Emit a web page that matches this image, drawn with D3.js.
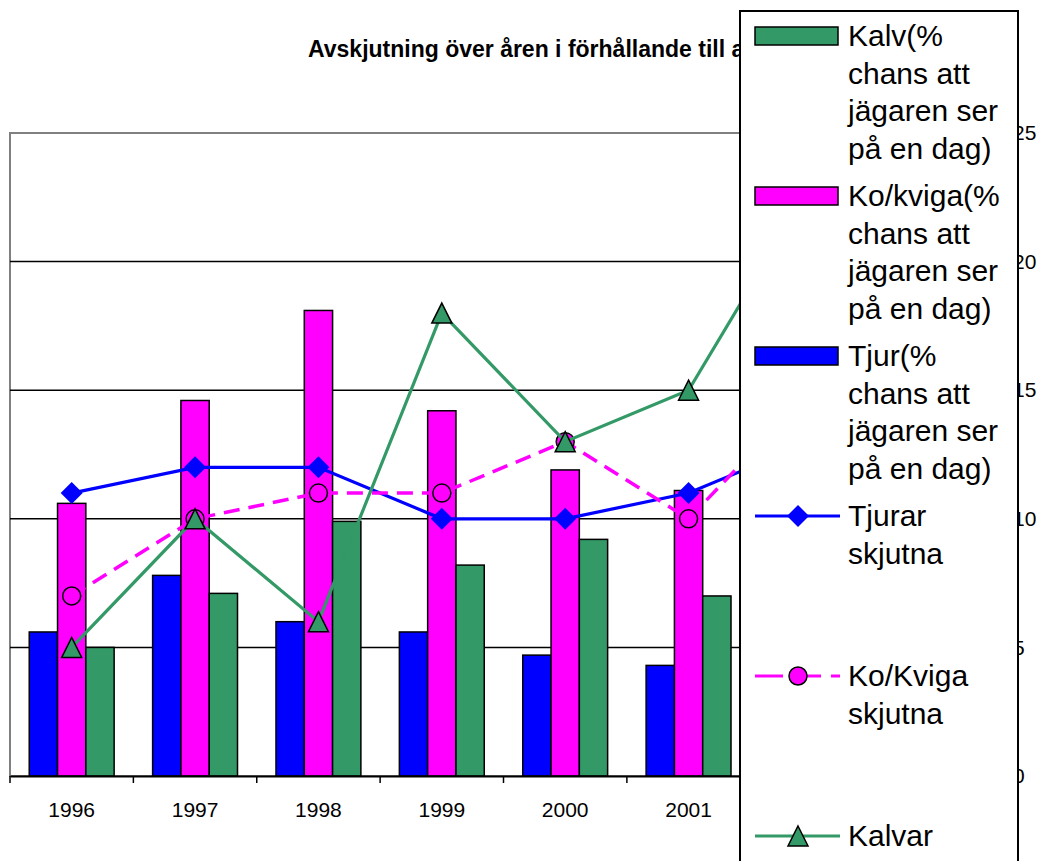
<!DOCTYPE html>
<html>
<head>
<meta charset="utf-8">
<script src="https://cdn.jsdelivr.net/npm/d3@7"></script>
<style>
  html, body { margin: 0; padding: 0; background: #fff; }
  svg text { font-family: Arial, "Liberation Sans", sans-serif; }
</style>
</head>
<body>
<div class="chart"></div>
<script>
// years on the category axis (last two sit behind the legend box)
var years = ["1996", "1997", "1998", "1999", "2000", "2001", "2002", "2003"];

// bars: % chance that the hunter sees the animal in a day
var tjurPct   = [5.6, 7.8, 6.0, 5.6, 4.7, 4.3, 5.0, 5.5];
var koKvigaPct = [10.6, 14.6, 18.1, 14.2, 11.9, 11.1, 12.0, 12.5];
var kalvPct   = [5.0, 7.1, 9.9, 8.2, 9.2, 7.0, 8.0, 8.5];

// lines: animals shot
var tjurarSkjutna  = [11, 12, 12, 10, 10, 11, 13, 12];
var koKvigaSkjutna = [7, 10, 11, 11, 13, 10, 15, 13];
var kalvarSkjutna  = [5, 10, 6, 18, 13, 15, 23, 20];

var rightTicks = [0, 5, 10, 15, 20, 25];

// the end of the title is hidden behind the legend box
var titleText = "Avskjutning över åren i förhållande till antal";

var legendItems = [
  { kind: "bar",  color: "#339966", lines: ["Kalv(%", "chans att", "jägaren ser", "på en dag)"] },
  { kind: "bar",  color: "#ff00ff", lines: ["Ko/kviga(%", "chans att", "jägaren ser", "på en dag)"] },
  { kind: "bar",  color: "#0000ff", lines: ["Tjur(%", "chans att", "jägaren ser", "på en dag)"] },
  { kind: "line", color: "#0000ff", marker: "diamond", lines: ["Tjurar", "skjutna"] },
  { kind: "line", color: "#ff00ff", marker: "circle", dash: "16,9", lines: ["Ko/Kviga", "skjutna"] },
  { kind: "line", color: "#339966", marker: "triangle", lines: ["Kalvar"] }
];

var W = 1039, H = 861;
var plotLeft = 10, plotRight = 997, plotTop = 133, plotBottom = 776;

var svg = d3.select(".chart").append("svg")
    .attr("width", W)
    .attr("height", H);

var x = d3.scaleBand().domain(years).range([plotLeft, plotRight]).padding(0);
var barSeries = ["tjur", "kokviga", "kalv"];
var xs = d3.scaleBand().domain(barSeries).range([0, x.bandwidth()])
    .paddingInner(0).paddingOuter(0.68);
var y = d3.scaleLinear().domain([0, 25]).range([plotBottom, plotTop]);
var y2 = d3.scaleLinear().domain([0, 25]).range([plotBottom, plotTop]);

var barColor = { tjur: "#0000ff", kokviga: "#ff00ff", kalv: "#339966" };
var barData = { tjur: tjurPct, kokviga: koKvigaPct, kalv: kalvPct };

// title
svg.append("text")
    .attr("x", 308)
    .attr("y", 57)
    .attr("font-size", 23)
    .attr("font-weight", "bold")
    .attr("fill", "#000")
    .text(titleText);

// plot area + gridlines
svg.append("rect")
    .attr("x", plotLeft).attr("y", plotTop)
    .attr("width", plotRight - plotLeft).attr("height", plotBottom - plotTop)
    .attr("fill", "#fff")
    .attr("stroke", "#808080")
    .attr("stroke-width", 2);

svg.append("g")
  .selectAll("line")
  .data(rightTicks.filter(function(d) { return d > 0 && d < 25; }))
  .enter().append("line")
    .attr("x1", plotLeft).attr("x2", plotRight)
    .attr("y1", function(d) { return y(d); })
    .attr("y2", function(d) { return y(d); })
    .attr("stroke", "#000")
    .attr("stroke-width", 1.5);

// bars
barSeries.forEach(function(s) {
  svg.append("g")
    .selectAll("rect")
    .data(years)
    .enter().append("rect")
      .attr("x", function(d) { return x(d) + xs(s); })
      .attr("y", function(d, i) { return y(barData[s][i]); })
      .attr("width", xs.bandwidth())
      .attr("height", function(d, i) { return plotBottom - y(barData[s][i]); })
      .attr("fill", barColor[s])
      .attr("stroke", "#000")
      .attr("stroke-width", 1.5);
});

// category axis
var xAxis = svg.append("g")
    .attr("transform", "translate(0," + plotBottom + ")")
    .call(d3.axisBottom(x).tickSize(0).tickPadding(26));
xAxis.select(".domain").attr("stroke", "#000").attr("stroke-width", 2);
xAxis.selectAll("text").attr("font-size", 21).attr("fill", "#000")
    .attr("font-family", "Arial, 'Liberation Sans', sans-serif");

var bounds = years.map(function(d) { return x(d); }).concat([plotRight]);
svg.append("g")
  .selectAll("line")
  .data(bounds)
  .enter().append("line")
    .attr("x1", function(d) { return d; })
    .attr("x2", function(d) { return d; })
    .attr("y1", plotBottom).attr("y2", plotBottom + 7)
    .attr("stroke", "#000")
    .attr("stroke-width", 1.5);

// right value axis
var yAxis = svg.append("g")
    .attr("transform", "translate(" + plotRight + ",0)")
    .call(d3.axisRight(y2).tickValues(rightTicks).tickSize(0).tickPadding(16));
yAxis.select(".domain").attr("stroke", "#000").attr("stroke-width", 2);
yAxis.selectAll("text").attr("font-size", 21).attr("fill", "#000")
    .attr("font-family", "Arial, 'Liberation Sans', sans-serif");

// line series
var cx = function(d, i) { return x(years[i]) + x.bandwidth() / 2; };
var lineGen = d3.line()
    .x(cx)
    .y(function(d) { return y2(d); });

function drawMarker(g, type, color) {
  if (type === "diamond") {
    g.append("path")
      .attr("d", "M0,-11L11,0L0,11L-11,0Z")
      .attr("fill", color);
  } else if (type === "circle") {
    g.append("circle")
      .attr("r", 9)
      .attr("fill", color)
      .attr("stroke", "#000")
      .attr("stroke-width", 1.5);
  } else {
    g.append("path")
      .attr("d", "M0,-10L10,10L-10,10Z")
      .attr("fill", color)
      .attr("stroke", "#000")
      .attr("stroke-width", 1.5);
  }
}

var lineSeries = [
  { values: tjurarSkjutna, color: "#0000ff", marker: "diamond" },
  { values: koKvigaSkjutna, color: "#ff00ff", marker: "circle", dash: "16,9" },
  { values: kalvarSkjutna, color: "#339966", marker: "triangle" }
];

lineSeries.forEach(function(s) {
  svg.append("path")
    .datum(s.values)
    .attr("d", lineGen)
    .attr("fill", "none")
    .attr("stroke", s.color)
    .attr("stroke-width", s.dash ? 3.5 : 3.2)
    .attr("stroke-dasharray", s.dash || null);
  s.values.forEach(function(v, i) {
    var g = svg.append("g")
      .attr("transform", "translate(" + cx(v, i) + "," + y2(v) + ")");
    drawMarker(g, s.marker, s.color);
  });
});

// legend
var legend = svg.append("g");
legend.append("rect")
    .attr("x", 740).attr("y", 11)
    .attr("width", 278).attr("height", 900)
    .attr("fill", "#fff")
    .attr("stroke", "#000")
    .attr("stroke-width", 2);

legendItems.forEach(function(item, k) {
  var base = 46 + k * 160;
  var g = legend.append("g");
  if (item.kind === "bar") {
    g.append("rect")
      .attr("x", 755).attr("y", base - 19)
      .attr("width", 83).attr("height", 18)
      .attr("fill", item.color)
      .attr("stroke", "#000")
      .attr("stroke-width", 1.5);
  } else {
    g.append("line")
      .attr("x1", 755).attr("x2", 840)
      .attr("y1", base - 10).attr("y2", base - 10)
      .attr("stroke", item.color)
      .attr("stroke-width", 3.2)
      .attr("stroke-dasharray", item.dash ? "28,10" : null);
    var m = g.append("g").attr("transform", "translate(798," + (base - 10) + ")");
    drawMarker(m, item.marker, item.color);
  }
  item.lines.forEach(function(t, j) {
    g.append("text")
      .attr("x", 848)
      .attr("y", base + j * 37.5)
      .attr("font-size", 30)
      .attr("fill", "#000")
      .text(t);
  });
});
</script>
</body>
</html>
